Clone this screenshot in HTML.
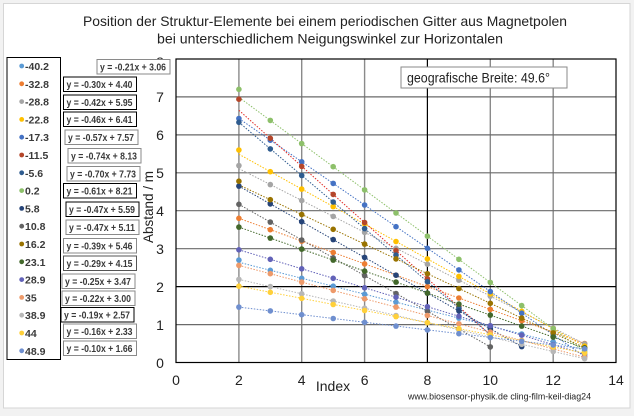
<!DOCTYPE html>
<html><head><meta charset="utf-8">
<style>
html,body{margin:0;padding:0;background:#f2f2f2;}
svg{display:block;font-family:"Liberation Sans",sans-serif;}
.eq{font-size:10px;font-weight:bold;fill:#3a3a3a;}
.lg{font-size:10.5px;font-weight:bold;fill:#3a3a3a;}
.tk{font-size:14px;fill:#222;}
.tl{stroke-width:1;stroke-dasharray:1.5 1.5;fill:none;}
</style></head>
<body>
<svg width="634" height="416" viewBox="0 0 634 416" xmlns="http://www.w3.org/2000/svg">
<rect x="3.5" y="3.5" width="626.5" height="404.5" fill="#fff" stroke="#d6d6d6"/>
<!-- title -->
<text x="83" y="26" font-size="14" fill="#222" textLength="484" lengthAdjust="spacingAndGlyphs">Position der Struktur-Elemente bei einem periodischen Gitter aus Magnetpolen</text>
<text x="157" y="43.5" font-size="14" fill="#222" textLength="346" lengthAdjust="spacingAndGlyphs">bei unterschiedlichem Neigungswinkel zur Horizontalen</text>

<!-- gridlines -->
<g stroke="#8a8a8a" stroke-width="1.4">
<line x1="238.9" y1="59" x2="238.9" y2="362.5"/>
<line x1="301.7" y1="59" x2="301.7" y2="362.5"/>
<line x1="364.6" y1="59" x2="364.6" y2="362.5"/>
<line x1="490.3" y1="59" x2="490.3" y2="362.5"/>
<line x1="553.2" y1="59" x2="553.2" y2="362.5"/>
</g>
<g stroke="#6a6a6a" stroke-width="1.2">
<line x1="176" y1="324.6" x2="616" y2="324.6"/>
<line x1="176" y1="248.7" x2="616" y2="248.7"/>
<line x1="176" y1="210.7" x2="616" y2="210.7"/>
<line x1="176" y1="172.8" x2="616" y2="172.8"/>
<line x1="176" y1="134.9" x2="616" y2="134.9"/>
<line x1="176" y1="96.9" x2="616" y2="96.9"/>
</g>
<line x1="427.4" y1="59" x2="427.4" y2="362.5" stroke="#000" stroke-width="1.2"/>
<line x1="176" y1="286.6" x2="616" y2="286.6" stroke="#000" stroke-width="1.2"/>
<rect x="176" y="59" width="440" height="303.5" fill="none" stroke="#000" stroke-width="1.2"/>

<!-- trendlines -->
<line class="tl" stroke="#5B9BD5" x1="238.9" y1="262.3" x2="584.6" y2="350.0"/>
<line class="tl" stroke="#ED7D31" x1="238.9" y1="218.3" x2="584.6" y2="343.5"/>
<line class="tl" stroke="#A5A5A5" x1="238.9" y1="168.6" x2="584.6" y2="343.9"/>
<line class="tl" stroke="#FFC000" x1="238.9" y1="154.2" x2="584.6" y2="346.2"/>
<line class="tl" stroke="#4472C4" x1="238.9" y1="118.5" x2="584.6" y2="356.4"/>
<line class="tl" stroke="#E0302A" x1="238.9" y1="110.2" x2="490.3" y2="334.8"/>
<line class="tl" stroke="#2F5C8F" x1="238.9" y1="122.3" x2="490.3" y2="334.8"/>
<line class="tl" stroke="#8DC06A" x1="238.9" y1="97.3" x2="584.6" y2="351.9"/>
<line class="tl" stroke="#264478" x1="238.9" y1="186.1" x2="521.7" y2="346.6"/>
<line class="tl" stroke="#636363" x1="238.9" y1="204.3" x2="490.3" y2="346.9"/>
<line class="tl" stroke="#997300" x1="238.9" y1="184.9" x2="584.6" y2="347.7"/>
<line class="tl" stroke="#43682B" x1="238.9" y1="227.1" x2="584.6" y2="348.1"/>
<line class="tl" stroke="#6262B8" x1="238.9" y1="249.8" x2="584.6" y2="354.2"/>
<line class="tl" stroke="#EE9A6A" x1="238.9" y1="265.4" x2="584.6" y2="357.2"/>
<line class="tl" stroke="#B7B7B7" x1="238.9" y1="279.4" x2="584.6" y2="358.7"/>
<line class="tl" stroke="#FFD03A" x1="238.9" y1="286.2" x2="584.6" y2="353.0"/>
<line class="tl" stroke="#6F8FCF" x1="238.9" y1="307.1" x2="584.6" y2="348.8"/>

<!-- markers -->
<g fill="#5B9BD5">
<circle cx="238.9" cy="260.1" r="2.8"/><circle cx="270.3" cy="270.3" r="2.8"/><circle cx="301.7" cy="278.3" r="2.8"/><circle cx="333.2" cy="286.2" r="2.8"/><circle cx="364.6" cy="294.2" r="2.8"/><circle cx="396.0" cy="302.2" r="2.8"/><circle cx="427.4" cy="310.1" r="2.8"/><circle cx="458.9" cy="318.1" r="2.8"/><circle cx="490.3" cy="326.1" r="2.8"/><circle cx="521.7" cy="334.0" r="2.8"/><circle cx="553.2" cy="342.0" r="2.8"/><circle cx="584.6" cy="350.0" r="2.8"/>
</g>
<g fill="#ED7D31">
<circle cx="238.9" cy="218.3" r="2.8"/><circle cx="270.3" cy="229.7" r="2.8"/><circle cx="301.7" cy="241.1" r="2.8"/><circle cx="333.2" cy="252.5" r="2.8"/><circle cx="364.6" cy="263.9" r="2.8"/><circle cx="396.0" cy="275.2" r="2.8"/><circle cx="427.4" cy="286.6" r="2.8"/><circle cx="458.9" cy="298.0" r="2.8"/><circle cx="490.3" cy="309.4" r="2.8"/><circle cx="521.7" cy="320.8" r="2.8"/><circle cx="553.2" cy="332.1" r="2.8"/><circle cx="584.6" cy="343.5" r="2.8"/>
</g>
<g fill="#A5A5A5">
<circle cx="238.9" cy="165.6" r="2.8"/><circle cx="270.3" cy="184.6" r="2.8"/><circle cx="301.7" cy="200.5" r="2.8"/><circle cx="333.2" cy="216.4" r="2.8"/><circle cx="364.6" cy="232.4" r="2.8"/><circle cx="396.0" cy="248.3" r="2.8"/><circle cx="427.4" cy="264.2" r="2.8"/><circle cx="458.9" cy="280.2" r="2.8"/><circle cx="490.3" cy="296.1" r="2.8"/><circle cx="521.7" cy="312.0" r="2.8"/><circle cx="553.2" cy="328.0" r="2.8"/><circle cx="584.6" cy="343.9" r="2.8"/>
</g>
<g fill="#FFC000">
<circle cx="238.9" cy="150.0" r="2.8"/><circle cx="270.3" cy="171.7" r="2.8"/><circle cx="301.7" cy="189.1" r="2.8"/><circle cx="333.2" cy="206.6" r="2.8"/><circle cx="364.6" cy="224.0" r="2.8"/><circle cx="396.0" cy="241.5" r="2.8"/><circle cx="427.4" cy="258.9" r="2.8"/><circle cx="458.9" cy="276.4" r="2.8"/><circle cx="490.3" cy="293.8" r="2.8"/><circle cx="521.7" cy="311.3" r="2.8"/><circle cx="553.2" cy="328.7" r="2.8"/><circle cx="584.6" cy="346.2" r="2.8"/>
</g>
<g fill="#4472C4">
<circle cx="238.9" cy="118.5" r="2.8"/><circle cx="270.3" cy="140.2" r="2.8"/><circle cx="301.7" cy="161.8" r="2.8"/><circle cx="333.2" cy="183.4" r="2.8"/><circle cx="364.6" cy="205.0" r="2.8"/><circle cx="396.0" cy="226.7" r="2.8"/><circle cx="427.4" cy="248.3" r="2.8"/><circle cx="458.9" cy="269.9" r="2.8"/><circle cx="490.3" cy="291.6" r="2.8"/><circle cx="521.7" cy="313.2" r="2.8"/><circle cx="553.2" cy="334.8" r="2.8"/><circle cx="584.6" cy="356.4" r="2.8"/>
</g>
<g fill="#B5462A">
<circle cx="238.9" cy="99.2" r="2.8"/><circle cx="270.3" cy="138.3" r="2.8"/><circle cx="301.7" cy="166.4" r="2.8"/><circle cx="333.2" cy="194.4" r="2.8"/><circle cx="364.6" cy="222.5" r="2.8"/><circle cx="396.0" cy="250.6" r="2.8"/><circle cx="427.4" cy="278.7" r="2.8"/><circle cx="458.9" cy="306.7" r="2.8"/><circle cx="490.3" cy="334.8" r="2.8"/>
</g>
<g fill="#2F5C8F">
<circle cx="238.9" cy="122.3" r="2.8"/><circle cx="270.3" cy="148.9" r="2.8"/><circle cx="301.7" cy="175.5" r="2.8"/><circle cx="333.2" cy="202.0" r="2.8"/><circle cx="364.6" cy="228.6" r="2.8"/><circle cx="396.0" cy="255.1" r="2.8"/><circle cx="427.4" cy="281.7" r="2.8"/><circle cx="458.9" cy="308.2" r="2.8"/><circle cx="490.3" cy="334.8" r="2.8"/>
</g>
<g fill="#8DC06A">
<circle cx="238.9" cy="89.3" r="2.8"/><circle cx="270.3" cy="120.4" r="2.8"/><circle cx="301.7" cy="143.6" r="2.8"/><circle cx="333.2" cy="166.7" r="2.8"/><circle cx="364.6" cy="189.9" r="2.8"/><circle cx="396.0" cy="213.0" r="2.8"/><circle cx="427.4" cy="236.2" r="2.8"/><circle cx="458.9" cy="259.3" r="2.8"/><circle cx="490.3" cy="282.4" r="2.8"/><circle cx="521.7" cy="305.6" r="2.8"/><circle cx="553.2" cy="328.7" r="2.8"/><circle cx="584.6" cy="351.9" r="2.8"/>
</g>
<g fill="#264478">
<circle cx="238.9" cy="186.1" r="2.8"/><circle cx="270.3" cy="203.9" r="2.8"/><circle cx="301.7" cy="221.7" r="2.8"/><circle cx="333.2" cy="239.6" r="2.8"/><circle cx="364.6" cy="257.4" r="2.8"/><circle cx="396.0" cy="275.2" r="2.8"/><circle cx="427.4" cy="293.1" r="2.8"/><circle cx="458.9" cy="310.9" r="2.8"/><circle cx="490.3" cy="328.7" r="2.8"/><circle cx="521.7" cy="346.6" r="2.8"/>
</g>
<g fill="#636363">
<circle cx="238.9" cy="204.3" r="2.8"/><circle cx="270.3" cy="222.1" r="2.8"/><circle cx="301.7" cy="240.0" r="2.8"/><circle cx="333.2" cy="257.8" r="2.8"/><circle cx="364.6" cy="275.6" r="2.8"/><circle cx="396.0" cy="293.5" r="2.8"/><circle cx="427.4" cy="311.3" r="2.8"/><circle cx="458.9" cy="329.1" r="2.8"/><circle cx="490.3" cy="346.9" r="2.8"/>
</g>
<g fill="#997300">
<circle cx="238.9" cy="181.2" r="2.8"/><circle cx="270.3" cy="199.7" r="2.8"/><circle cx="301.7" cy="214.5" r="2.8"/><circle cx="333.2" cy="229.3" r="2.8"/><circle cx="364.6" cy="244.1" r="2.8"/><circle cx="396.0" cy="258.9" r="2.8"/><circle cx="427.4" cy="273.7" r="2.8"/><circle cx="458.9" cy="288.5" r="2.8"/><circle cx="490.3" cy="303.3" r="2.8"/><circle cx="521.7" cy="318.1" r="2.8"/><circle cx="553.2" cy="332.9" r="2.8"/><circle cx="584.6" cy="347.7" r="2.8"/>
</g>
<g fill="#43682B">
<circle cx="238.9" cy="227.1" r="2.8"/><circle cx="270.3" cy="238.1" r="2.8"/><circle cx="301.7" cy="249.1" r="2.8"/><circle cx="333.2" cy="260.1" r="2.8"/><circle cx="364.6" cy="271.1" r="2.8"/><circle cx="396.0" cy="282.1" r="2.8"/><circle cx="427.4" cy="293.1" r="2.8"/><circle cx="458.9" cy="304.1" r="2.8"/><circle cx="490.3" cy="315.1" r="2.8"/><circle cx="521.7" cy="326.1" r="2.8"/><circle cx="553.2" cy="337.1" r="2.8"/><circle cx="584.6" cy="348.1" r="2.8"/>
</g>
<g fill="#6262B8">
<circle cx="238.9" cy="249.8" r="2.8"/><circle cx="270.3" cy="259.3" r="2.8"/><circle cx="301.7" cy="268.8" r="2.8"/><circle cx="333.2" cy="278.3" r="2.8"/><circle cx="364.6" cy="287.8" r="2.8"/><circle cx="396.0" cy="297.2" r="2.8"/><circle cx="427.4" cy="306.7" r="2.8"/><circle cx="458.9" cy="316.2" r="2.8"/><circle cx="490.3" cy="325.7" r="2.8"/><circle cx="521.7" cy="335.2" r="2.8"/><circle cx="553.2" cy="344.7" r="2.8"/><circle cx="584.6" cy="354.2" r="2.8"/>
</g>
<g fill="#EE9A6A">
<circle cx="238.9" cy="265.4" r="2.8"/><circle cx="270.3" cy="273.7" r="2.8"/><circle cx="301.7" cy="282.1" r="2.8"/><circle cx="333.2" cy="290.4" r="2.8"/><circle cx="364.6" cy="298.8" r="2.8"/><circle cx="396.0" cy="307.1" r="2.8"/><circle cx="427.4" cy="315.5" r="2.8"/><circle cx="458.9" cy="323.8" r="2.8"/><circle cx="490.3" cy="332.1" r="2.8"/><circle cx="521.7" cy="340.5" r="2.8"/><circle cx="553.2" cy="348.8" r="2.8"/><circle cx="584.6" cy="357.2" r="2.8"/>
</g>
<g fill="#B7B7B7">
<circle cx="238.9" cy="279.4" r="2.8"/><circle cx="270.3" cy="286.6" r="2.8"/><circle cx="301.7" cy="293.8" r="2.8"/><circle cx="333.2" cy="301.0" r="2.8"/><circle cx="364.6" cy="308.2" r="2.8"/><circle cx="396.0" cy="315.5" r="2.8"/><circle cx="427.4" cy="322.7" r="2.8"/><circle cx="458.9" cy="329.9" r="2.8"/><circle cx="490.3" cy="337.1" r="2.8"/><circle cx="521.7" cy="344.3" r="2.8"/><circle cx="553.2" cy="351.5" r="2.8"/><circle cx="584.6" cy="358.7" r="2.8"/>
</g>
<g fill="#FFD03A">
<circle cx="238.9" cy="286.2" r="2.8"/><circle cx="270.3" cy="292.3" r="2.8"/><circle cx="301.7" cy="298.4" r="2.8"/><circle cx="333.2" cy="304.5" r="2.8"/><circle cx="364.6" cy="310.5" r="2.8"/><circle cx="396.0" cy="316.6" r="2.8"/><circle cx="427.4" cy="322.7" r="2.8"/><circle cx="458.9" cy="328.7" r="2.8"/><circle cx="490.3" cy="334.8" r="2.8"/><circle cx="521.7" cy="340.9" r="2.8"/><circle cx="553.2" cy="346.9" r="2.8"/><circle cx="584.6" cy="353.0" r="2.8"/>
</g>
<g fill="#6F8FCF">
<circle cx="238.9" cy="307.1" r="2.8"/><circle cx="270.3" cy="310.9" r="2.8"/><circle cx="301.7" cy="314.7" r="2.8"/><circle cx="333.2" cy="318.5" r="2.8"/><circle cx="364.6" cy="322.3" r="2.8"/><circle cx="396.0" cy="326.1" r="2.8"/><circle cx="427.4" cy="329.9" r="2.8"/><circle cx="458.9" cy="333.7" r="2.8"/><circle cx="490.3" cy="337.5" r="2.8"/><circle cx="521.7" cy="341.3" r="2.8"/><circle cx="553.2" cy="345.0" r="2.8"/><circle cx="584.6" cy="348.8" r="2.8"/>
</g>

<!-- axis tick labels -->
<g class="tk" text-anchor="middle">
<text x="160" y="67">8</text>
<text x="160" y="102">7</text>
<text x="160" y="140">6</text>
<text x="160" y="178">5</text>
<text x="160" y="216">4</text>
<text x="160" y="254">3</text>
<text x="160" y="292">2</text>
<text x="160" y="330">1</text>
<text x="160" y="368">0</text>
<text x="176" y="385">0</text>
<text x="238.9" y="385">2</text>
<text x="301.7" y="385">4</text>
<text x="364.6" y="385">6</text>
<text x="427.4" y="385">8</text>
<text x="490.3" y="385">10</text>
<text x="553.2" y="385">12</text>
<text x="616" y="385">14</text>
</g>
<text x="333" y="391" font-size="14" fill="#222" text-anchor="middle">Index</text>
<text transform="translate(153,207) rotate(-90)" font-size="14" fill="#222" text-anchor="middle" textLength="72" lengthAdjust="spacingAndGlyphs">Abstand / m</text>

<!-- geo box -->
<rect x="401" y="67" width="166" height="21" fill="#fff" stroke="#8a8a8a"/>
<text x="407" y="82.5" font-size="14" fill="#222" textLength="143" lengthAdjust="spacingAndGlyphs">geografische Breite: 49.6°</text>

<!-- footer -->
<text x="408" y="399.5" font-size="9.5" fill="#222" textLength="183" lengthAdjust="spacingAndGlyphs">www.biosensor-physik.de  cling-film-keil-diag24</text>

<!-- legend -->
<rect x="7" y="57.5" width="53.5" height="302" fill="#fff" stroke="#000" stroke-width="1"/>
<g>
<circle cx="21.7" cy="66" r="2.4" fill="#5B9BD5"/><text class="lg" x="25" y="70">-40.2</text>
<circle cx="21.7" cy="83.8" r="2.4" fill="#ED7D31"/><text class="lg" x="25" y="87.8">-32.8</text>
<circle cx="21.7" cy="101.6" r="2.4" fill="#A5A5A5"/><text class="lg" x="25" y="105.6">-28.8</text>
<circle cx="21.7" cy="119.4" r="2.4" fill="#FFC000"/><text class="lg" x="25" y="123.4">-22.8</text>
<circle cx="21.7" cy="137.2" r="2.4" fill="#4472C4"/><text class="lg" x="25" y="141.2">-17.3</text>
<circle cx="21.7" cy="155" r="2.4" fill="#B5462A"/><text class="lg" x="25" y="159">-11.5</text>
<circle cx="21.7" cy="172.8" r="2.4" fill="#2F5C8F"/><text class="lg" x="25" y="176.8">-5.6</text>
<circle cx="21.7" cy="190.6" r="2.4" fill="#8DC06A"/><text class="lg" x="25" y="194.6">0.2</text>
<circle cx="21.7" cy="208.4" r="2.4" fill="#264478"/><text class="lg" x="25" y="212.4">5.8</text>
<circle cx="21.7" cy="226.2" r="2.4" fill="#636363"/><text class="lg" x="25" y="230.2">10.8</text>
<circle cx="21.7" cy="244" r="2.4" fill="#997300"/><text class="lg" x="25" y="248">16.2</text>
<circle cx="21.7" cy="261.8" r="2.4" fill="#43682B"/><text class="lg" x="25" y="265.8">23.1</text>
<circle cx="21.7" cy="279.6" r="2.4" fill="#6262B8"/><text class="lg" x="25" y="283.6">28.9</text>
<circle cx="21.7" cy="297.4" r="2.4" fill="#EE9A6A"/><text class="lg" x="25" y="301.4">35</text>
<circle cx="21.7" cy="315.2" r="2.4" fill="#B7B7B7"/><text class="lg" x="25" y="319.2">38.9</text>
<circle cx="21.7" cy="333" r="2.4" fill="#FFD03A"/><text class="lg" x="25" y="337">44</text>
<circle cx="21.7" cy="350.8" r="2.4" fill="#6F8FCF"/><text class="lg" x="25" y="354.8">48.9</text>
</g>

<!-- equation boxes -->
<g fill="#fff" stroke-width="1">
<rect x="97" y="59.5" width="73" height="14.5" stroke="#8a8a8a"/>
<rect x="63.5" y="77" width="73" height="14.5" stroke="#000"/>
<rect x="63.5" y="95" width="73" height="14.5" stroke="#000"/>
<rect x="63.5" y="112" width="73" height="14.5" stroke="#000"/>
<rect x="65" y="130" width="73" height="14.5" stroke="#8a8a8a"/>
<rect x="68" y="148.5" width="73" height="14.5" stroke="#8a8a8a"/>
<rect x="67" y="166.5" width="73" height="14.5" stroke="#8a8a8a"/>
<rect x="63.5" y="183.5" width="73" height="14.5" stroke="#000"/>
<rect x="66" y="202" width="73" height="14.5" stroke="#000"/>
<rect x="66" y="220" width="73" height="14.5" stroke="#8a8a8a"/>
<rect x="63.5" y="238.5" width="73" height="14.5" stroke="#8a8a8a"/>
<rect x="63.5" y="256" width="73" height="14.5" stroke="#555"/>
<rect x="62" y="274" width="73" height="14.5" stroke="#8a8a8a"/>
<rect x="62" y="291" width="73" height="14.5" stroke="#8a8a8a"/>
<rect x="61" y="307.5" width="73" height="14.5" stroke="#000"/>
<rect x="63.5" y="324" width="73" height="14.5" stroke="#8a8a8a"/>
<rect x="63.5" y="341" width="73" height="14.5" stroke="#8a8a8a"/>
</g>
<g class="eq">
<text x="100" y="70.5" textLength="66" lengthAdjust="spacingAndGlyphs">y = -0.21x + 3.06</text>
<text x="66.5" y="88" textLength="66" lengthAdjust="spacingAndGlyphs">y = -0.30x + 4.40</text>
<text x="66.5" y="106" textLength="66" lengthAdjust="spacingAndGlyphs">y = -0.42x + 5.95</text>
<text x="66.5" y="123" textLength="66" lengthAdjust="spacingAndGlyphs">y = -0.46x + 6.41</text>
<text x="68" y="141" textLength="66" lengthAdjust="spacingAndGlyphs">y = -0.57x + 7.57</text>
<text x="71" y="159.5" textLength="66" lengthAdjust="spacingAndGlyphs">y = -0.74x + 8.13</text>
<text x="70" y="177.5" textLength="66" lengthAdjust="spacingAndGlyphs">y = -0.70x + 7.73</text>
<text x="66.5" y="194.5" textLength="66" lengthAdjust="spacingAndGlyphs">y = -0.61x + 8.21</text>
<text x="69" y="213" textLength="66" lengthAdjust="spacingAndGlyphs">y = -0.47x + 5.59</text>
<text x="69" y="231" textLength="66" lengthAdjust="spacingAndGlyphs">y = -0.47x + 5.11</text>
<text x="66.5" y="249.5" textLength="66" lengthAdjust="spacingAndGlyphs">y = -0.39x + 5.46</text>
<text x="66.5" y="267" textLength="66" lengthAdjust="spacingAndGlyphs">y = -0.29x + 4.15</text>
<text x="65" y="285" textLength="66" lengthAdjust="spacingAndGlyphs">y = -0.25x + 3.47</text>
<text x="65" y="302" textLength="66" lengthAdjust="spacingAndGlyphs">y = -0.22x + 3.00</text>
<text x="64" y="318.5" textLength="66" lengthAdjust="spacingAndGlyphs">y = -0.19x + 2.57</text>
<text x="66.5" y="335" textLength="66" lengthAdjust="spacingAndGlyphs">y = -0.16x + 2.33</text>
<text x="66.5" y="352" textLength="66" lengthAdjust="spacingAndGlyphs">y = -0.10x + 1.66</text>
</g>
</svg>
</body></html>
